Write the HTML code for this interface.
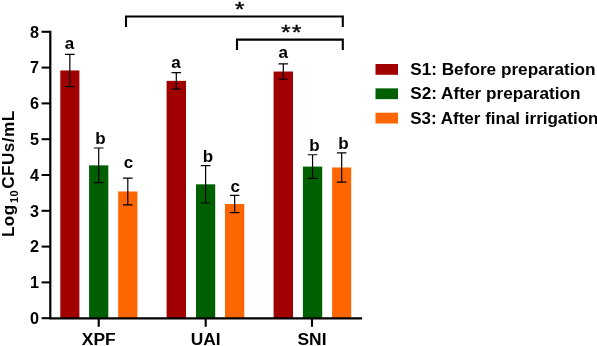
<!DOCTYPE html>
<html><head><meta charset="utf-8"><title>chart</title>
<style>
html,body{margin:0;padding:0;background:#fff;}
body{width:597px;height:346px;overflow:hidden;}
svg{display:block;will-change:transform;}
text{font-family:"Liberation Sans",Arial,sans-serif;font-weight:bold;fill:#000;}
</style></head><body>
<svg width="597" height="346" viewBox="0 0 597 346">
<rect width="597" height="346" fill="#fff"/>
<rect x="60.3" y="70.46" width="19.1" height="247.74" fill="#A00000"/>
<rect x="89.1" y="165.33" width="19.2" height="152.87" fill="#005F00"/>
<rect x="118.2" y="191.47" width="19.2" height="126.73" fill="#FF6600"/>
<rect x="166.6" y="80.85" width="19.4" height="237.35" fill="#A00000"/>
<rect x="196.0" y="184.31" width="19.2" height="133.89" fill="#005F00"/>
<rect x="225.0" y="204.00" width="19.3" height="114.20" fill="#FF6600"/>
<rect x="273.6" y="71.54" width="19.4" height="246.66" fill="#A00000"/>
<rect x="302.9" y="166.59" width="19.3" height="151.61" fill="#005F00"/>
<rect x="332.1" y="167.48" width="19.1" height="150.72" fill="#FF6600"/>
<path d="M69.85 54.35V86.57M65.05 54.35h9.6M65.05 86.57h9.6" stroke="#000" stroke-width="1.2" fill="none"/>
<text x="69.55" y="49.30" font-size="17" text-anchor="middle">a</text>
<path d="M98.70 148.01V182.66M93.90 148.01h9.6M93.90 182.66h9.6" stroke="#000" stroke-width="1.2" fill="none"/>
<text x="100.40" y="143.95" font-size="17" text-anchor="middle">b</text>
<path d="M127.80 178.11V204.82M123.00 178.11h9.6M123.00 204.82h9.6" stroke="#000" stroke-width="1.2" fill="none"/>
<text x="128.60" y="168.45" font-size="17" text-anchor="middle">c</text>
<path d="M176.30 72.54V89.15M171.50 72.54h9.6M171.50 89.15h9.6" stroke="#000" stroke-width="1.2" fill="none"/>
<text x="175.95" y="67.50" font-size="17" text-anchor="middle">a</text>
<path d="M205.60 165.62V203.00M200.80 165.62h9.6M200.80 203.00h9.6" stroke="#000" stroke-width="1.2" fill="none"/>
<text x="207.90" y="161.70" font-size="17" text-anchor="middle">b</text>
<path d="M234.65 195.33V212.66M229.85 195.33h9.6M229.85 212.66h9.6" stroke="#000" stroke-width="1.2" fill="none"/>
<text x="235.20" y="192.15" font-size="17" text-anchor="middle">c</text>
<path d="M283.30 63.81V79.27M278.50 63.81h9.6M278.50 79.27h9.6" stroke="#000" stroke-width="1.2" fill="none"/>
<text x="283.30" y="58.15" font-size="17" text-anchor="middle">a</text>
<path d="M312.55 154.77V178.40M307.75 154.77h9.6M307.75 178.40h9.6" stroke="#000" stroke-width="1.2" fill="none"/>
<text x="314.50" y="150.85" font-size="17" text-anchor="middle">b</text>
<path d="M341.65 152.88V182.09M336.85 152.88h9.6M336.85 182.09h9.6" stroke="#000" stroke-width="1.2" fill="none"/>
<text x="343.40" y="149.30" font-size="17" text-anchor="middle">b</text>
<path d="M50.3 30.80V319.5M49.2 318.4H362.1" stroke="#000" stroke-width="2.2" fill="none"/>
<path d="M41.6 318.20H50" stroke="#000" stroke-width="2.05"/>
<text x="39.0" y="323.95" font-size="16.2" text-anchor="end">0</text>
<path d="M41.6 282.40H50" stroke="#000" stroke-width="2.05"/>
<text x="39.0" y="288.15" font-size="16.2" text-anchor="end">1</text>
<path d="M41.6 246.60H50" stroke="#000" stroke-width="2.05"/>
<text x="39.0" y="252.35" font-size="16.2" text-anchor="end">2</text>
<path d="M41.6 210.80H50" stroke="#000" stroke-width="2.05"/>
<text x="39.0" y="216.55" font-size="16.2" text-anchor="end">3</text>
<path d="M41.6 175.00H50" stroke="#000" stroke-width="2.05"/>
<text x="39.0" y="180.75" font-size="16.2" text-anchor="end">4</text>
<path d="M41.6 139.20H50" stroke="#000" stroke-width="2.05"/>
<text x="39.0" y="144.95" font-size="16.2" text-anchor="end">5</text>
<path d="M41.6 103.40H50" stroke="#000" stroke-width="2.05"/>
<text x="39.0" y="109.15" font-size="16.2" text-anchor="end">6</text>
<path d="M41.6 67.60H50" stroke="#000" stroke-width="2.05"/>
<text x="39.0" y="73.35" font-size="16.2" text-anchor="end">7</text>
<path d="M41.6 31.80H50" stroke="#000" stroke-width="2.05"/>
<text x="39.0" y="37.55" font-size="16.2" text-anchor="end">8</text>
<path d="M98.7 318.2V326.8" stroke="#000" stroke-width="2.1"/>
<text x="98.7" y="344.7" font-size="17.4" text-anchor="middle">XPF</text>
<path d="M205.7 318.2V326.8" stroke="#000" stroke-width="2.1"/>
<text x="205.7" y="344.7" font-size="17.4" text-anchor="middle">UAI</text>
<path d="M312.0 318.2V326.8" stroke="#000" stroke-width="2.1"/>
<text x="312.0" y="344.7" font-size="17.4" text-anchor="middle">SNI</text>
<text transform="translate(14.0 237.1) rotate(-90)" font-size="17.2" letter-spacing="0.4">Log</text>
<text transform="translate(17.7 202.9) rotate(-90)" font-size="11" letter-spacing="0.3">10</text>
<text transform="translate(14.0 188.7) rotate(-90)" font-size="17.2" letter-spacing="0.4">CFUs/mL</text>
<path d="M126 27.1V16.5H342.8V27.1" stroke="#000" stroke-width="2.1" fill="none"/>
<path d="M237 50.1V39.65H342.8V50.1" stroke="#000" stroke-width="2.1" fill="none"/>
<text transform="translate(239.7 15.7) scale(1 0.81)" font-size="25" text-anchor="middle" stroke="#000" stroke-width="0.4" style="font-weight:normal">*</text>
<text transform="translate(285.8 39.2) scale(1 0.81)" font-size="25" text-anchor="middle" stroke="#000" stroke-width="0.4" style="font-weight:normal">*</text>
<text transform="translate(296.6 39.2) scale(1 0.81)" font-size="25" text-anchor="middle" stroke="#000" stroke-width="0.4" style="font-weight:normal">*</text>
<rect x="375.5" y="64.00" width="22.5" height="10.8" fill="#A00000"/>
<text x="410.2" y="75.10" font-size="17.2">S1: Before preparation</text>
<rect x="375.5" y="88.35" width="22.5" height="10.8" fill="#005F00"/>
<text x="410.2" y="99.45" font-size="17.2">S2: After preparation</text>
<rect x="375.5" y="112.70" width="22.5" height="10.8" fill="#FF6600"/>
<text x="410.2" y="123.80" font-size="17.0">S3: After final irrigation</text>
</svg></body></html>
